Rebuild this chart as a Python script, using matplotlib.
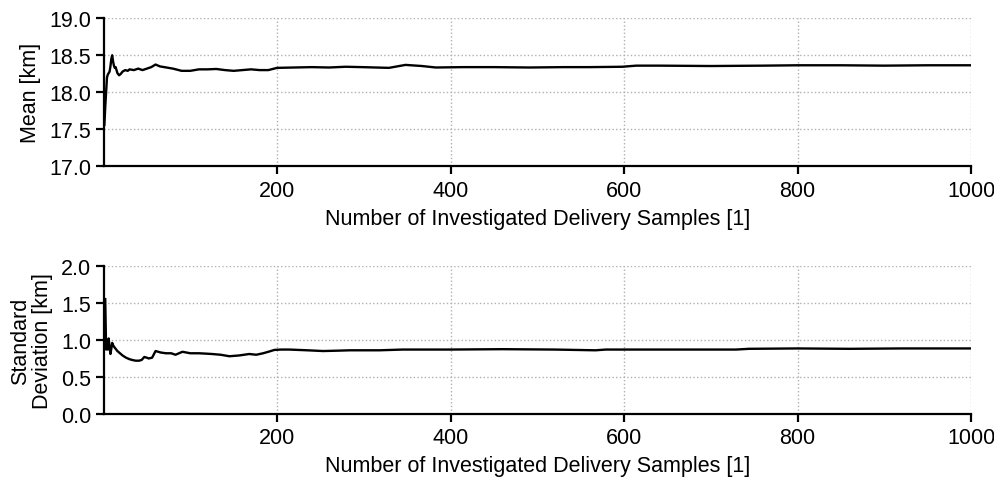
import matplotlib
matplotlib.use("Agg")
import matplotlib.pyplot as plt

plt.rcParams['font.family'] = ['Liberation Sans', 'DejaVu Sans']
plt.rcParams['font.size'] = 15.5

# Running mean [km] vs number of samples
mean_n = [1, 2, 3, 4, 5, 6, 7, 8, 9, 10, 11, 12, 13, 14, 15, 16, 18, 20, 22, 25,
          28, 30, 35, 40, 45, 50, 55, 60, 65, 70, 80, 90, 100, 110, 120, 130, 140,
          150, 160, 170, 180, 190, 200, 220, 240, 260, 279, 298, 329, 348, 367,
          383, 414, 450, 491, 530, 560, 598, 614, 641, 700, 760, 800, 850, 900,
          950, 1000]
mean_v = [17.56, 17.80, 18.00, 18.20, 18.24, 18.26, 18.28, 18.35, 18.45, 18.50,
          18.42, 18.36, 18.33, 18.34, 18.30, 18.26, 18.23, 18.25, 18.28, 18.30,
          18.29, 18.31, 18.30, 18.32, 18.30, 18.32, 18.34, 18.375, 18.35, 18.34,
          18.32, 18.29, 18.29, 18.31, 18.31, 18.315, 18.30, 18.29, 18.30, 18.31,
          18.30, 18.30, 18.33, 18.335, 18.34, 18.335, 18.345, 18.34, 18.33, 18.37,
          18.355, 18.335, 18.34, 18.34, 18.335, 18.34, 18.34, 18.345, 18.36, 18.36,
          18.355, 18.36, 18.365, 18.365, 18.36, 18.365, 18.365]

# Running standard deviation [km]
std_n = [2, 3, 4, 5, 6, 7, 8, 9, 10, 11, 12, 14, 16, 18, 22, 26, 30, 33, 37, 41,
         44, 47, 50, 52, 56, 60, 66, 72, 78, 83, 87, 91, 100, 110, 118, 125, 135,
         145, 156, 168, 176, 184, 190, 197, 205, 214, 235, 253, 270, 284, 318,
         345, 398, 460, 520, 567, 579, 640, 700, 729, 744, 800, 860, 920, 1000]
std_v = [1.55, 0.87, 1.00, 0.87, 1.02, 0.90, 0.81, 0.88, 0.96, 0.93, 0.91, 0.88,
         0.85, 0.83, 0.79, 0.76, 0.74, 0.73, 0.72, 0.72, 0.73, 0.77, 0.76, 0.75,
         0.76, 0.85, 0.83, 0.82, 0.82, 0.80, 0.82, 0.84, 0.82, 0.82, 0.815, 0.81,
         0.80, 0.78, 0.79, 0.81, 0.80, 0.82, 0.84, 0.865, 0.87, 0.87, 0.86, 0.85,
         0.855, 0.86, 0.86, 0.87, 0.87, 0.875, 0.87, 0.86, 0.87, 0.87, 0.87, 0.87,
         0.88, 0.885, 0.88, 0.885, 0.885]

x_ticks = [200, 400, 600, 800, 1000]
mean_ticks = [17.0, 17.5, 18.0, 18.5, 19.0]
std_ticks = [0.0, 0.5, 1.0, 1.5, 2.0]
xlabel = "Number of Investigated Delivery Samples [1]"

fig = plt.figure(figsize=(9.94, 4.81), dpi=100)
ax1 = fig.add_axes([0.105, 0.652, 0.872, 0.308])
ax2 = fig.add_axes([0.105, 0.137, 0.872, 0.3085])

for ax, xs, ys, yt, yl in [(ax1, mean_n, mean_v, mean_ticks, "Mean [km]"),
                           (ax2, std_n, std_v, std_ticks, "Standard\nDeviation [km]")]:
    ax.plot(xs, ys, color='black', lw=1.7)
    ax.set_xlim(1, 1000)
    ax.set_ylim(yt[0], yt[-1])
    ax.set_xticks(x_ticks)
    ax.set_yticks(yt)
    ax.set_yticklabels([f"{t:.1f}" for t in yt])
    ax.set_xlabel(xlabel, labelpad=5)
    ax.set_ylabel(yl, linespacing=1.05, labelpad=6)
    for s in ['top', 'right']:
        ax.spines[s].set_visible(False)
    for s in ['left', 'bottom']:
        ax.spines[s].set_linewidth(1.6)
    ax.tick_params(direction='out', length=6, width=1.6, labelsize=15.5)
    ax.grid(True, linestyle=':', color='#b0b0b0', linewidth=1.0)
    ax.set_axisbelow(True)

fig.savefig("out.png", dpi=100)
